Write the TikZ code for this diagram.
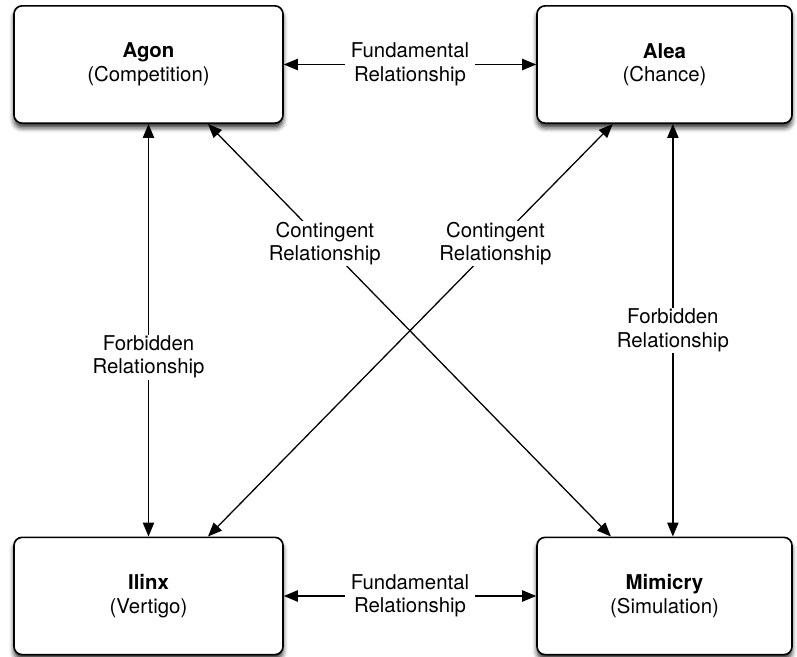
\documentclass[tikz,border=0pt]{standalone}
\usepackage{fontspec}
\setmainfont{TeX Gyre Heros}
\usetikzlibrary{arrows.meta,shadows.blur}
\begin{document}
\begin{tikzpicture}[x=0.03cm, y=-0.03cm,
	font=\fontsize{17.4}{20}\selectfont,
	game/.style={draw, fill=white, line width=1.4pt, rounded corners=7pt, align=center,
		minimum width=8.07cm, minimum height=3.52cm,
		blur shadow={shadow xshift=0pt, shadow yshift=-4pt, shadow blur radius=4pt, shadow opacity=80}},
	rel/.style={line width=1.1pt, {Triangle[length=0.42cm,width=0.34cm]}-{Triangle[length=0.42cm,width=0.34cm]}},
	lbl/.style={fill=white, align=center, inner xsep=5pt, inner ysep=1pt}
	]
	\useasboundingbox (0,0) rectangle (797,657);
	\node[game] (agon) at (148.5,64.5) {\textbf{Agon}\\(Competition)};
	\node[game, minimum width=7.65cm] (alea) at (664.5,64.5) {\textbf{Alea}\\(Chance)};
	\node[game] (ilinx) at (148.5,596) {\textbf{Ilinx}\\(Vertigo)};
	\node[game, minimum width=7.65cm] (mimicry) at (664.5,596) {\textbf{Mimicry}\\(Simulation)};
	% fundamental
	\draw[rel] (agon.east) -- node[lbl] {Fundamental\\Relationship} (alea.west);
	\draw[rel] (ilinx.east) -- node[lbl] {Fundamental\\Relationship} (mimicry.west);
	% forbidden
	\draw[rel] (agon.south) -- node[lbl, pos=0.565] {Forbidden\\Relationship} (ilinx.north);
	\draw[rel] (alea.-82) -- node[lbl, pos=0.5] {Forbidden\\Relationship} (mimicry.82);
	% contingent
	\draw[rel] (agon.-45) -- node[lbl, pos=0.29] {Contingent\\Relationship} (mimicry.132);
	\draw[rel] (alea.-131) -- node[lbl, pos=0.29] {Contingent\\Relationship} (ilinx.45);
\end{tikzpicture}
\end{document}
